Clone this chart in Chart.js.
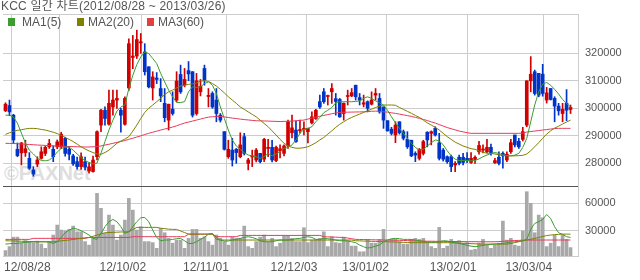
<!DOCTYPE html>
<html lang="ko">
<head>
<meta charset="UTF-8" />
<title>KCC 일간 차트</title>
<style>
  body { margin: 0; background: #fff; }
  .wrap { position: relative; width: 640px; height: 280px; overflow: hidden; font-family: "Liberation Sans", "Noto Sans CJK KR", sans-serif; color: #555; }
  .wrap canvas { position: absolute; left: 0; top: 0; }
  .title { position: absolute; left: 1px; top: 0; font-size: 12px; line-height: 12px; letter-spacing: 0.2px; white-space: nowrap; }
  .leg { position: absolute; top: 16px; font-size: 12px; line-height: 12px; white-space: nowrap; }
  .sq { position: absolute; top: 18px; width: 7px; height: 8px; }
  .mark { position: absolute; left: 4px; top: 162px; font: bold 20px "Liberation Sans", sans-serif; color: #dedede; white-space: nowrap; }
</style>
</head>
<body>
<div class="wrap">
  <div class="mark">©PAXNet</div>
  <canvas id="chart" width="640" height="280"></canvas>
  <div class="title">KCC 일간 차트(2012/08/28 ~ 2013/03/26)</div>
  <div class="sq" style="left:8px;background:#3c9c30"></div><div class="leg" style="left:22px">MA1(5)</div>
  <div class="sq" style="left:77px;background:#808000"></div><div class="leg" style="left:88px">MA2(20)</div>
  <div class="sq" style="left:147px;background:#e04040"></div><div class="leg" style="left:158px">MA3(60)</div>
</div>
<script src="https://cdn.jsdelivr.net/npm/chart.js"></script>
<script>
// daily candles 2012/08/28 .. 2013/03/26
const opens = [299100,301000,297500,285100,283800,283900,281800,277600,279700,281800,
283600,286000,285100,286000,286000,289100,285100,282700,280600,278800,
280600,277200,277000,282400,293900,299300,294200,300500,303000,299300,
294200,307400,318500,319000,323800,320500,315100,307400,311000,307200,
301800,295700,299700,303000,312300,308500,313700,313300,298100,306000,
314500,304300,305400,303000,297500,291500,282400,284800,285100,282400,
289700,280000,282300,281200,283600,281500,285400,285800,281000,284500,
283600,286300,291100,292100,291900,292300,291500,294700,296300,302400,
306000,304300,306000,303500,303200,298100,304300,304500,308400,303900,
301500,302400,301500,304800,303600,300500,295500,292400,290300,295100,
291500,288700,288400,283600,281800,283600,291300,290900,292700,287400,
284800,282400,282400,279400,282200,282200,281800,280300,281400,284200,
284800,284200,285800,280200,282200,283600,281200,284200,290300,288000,
288700,293900,310000,313300,312700,312400,303000,307200,303600,300800,
298100,301800,299600];
const highs = [302000,303000,297800,287400,287600,288400,283900,278800,282400,286000,
286300,288700,286300,288500,291300,289500,286000,283300,282300,283800,
282300,280200,282600,291800,299600,300500,306600,306600,306600,300000,
304200,325300,326500,328400,327200,323500,315100,313300,313000,310800,
307200,301500,306000,313300,315700,314500,317000,313300,312700,310500,
315700,307200,306000,307200,298100,291500,288400,289100,285400,291100,
290900,281800,284800,285400,283600,289100,288700,288400,286300,286700,
286700,295700,297500,295400,295700,295100,292800,298700,299600,304800,
307200,304800,309000,305400,303600,302000,306600,307200,308400,305400,
304800,302700,306000,307200,305400,300500,295500,293100,295100,295100,
292100,291500,288400,284200,285400,288400,291500,291800,293300,290900,
285400,282700,283000,280600,283000,283600,283900,283900,282700,288000,
286700,288700,287000,281800,284200,284200,284200,288700,290300,289100,
293100,310000,318800,313900,312700,316000,307600,307200,304200,301800,
301800,306800,301200];
const lows = [298800,297300,287200,282400,279400,282500,277800,275300,278800,281500,
282800,285400,280600,285300,285300,282600,281200,279200,277900,277800,
277600,276400,276800,281200,291500,293900,293900,297500,300000,291300,
293900,306500,314400,318100,320000,312100,307400,303000,309000,302400,
295100,292100,297500,302400,305400,307800,310000,296800,297500,304500,
308400,300500,300000,295100,295000,284800,281800,279000,280000,282000,
283000,277600,278800,280500,280100,280600,282400,280500,280600,282000,
282700,285400,289200,287600,291000,290300,287400,294300,296000,300000,
301800,301200,301800,297500,296700,295700,301200,304200,303000,301200,
300500,298700,301200,303000,298200,292700,291700,290300,287500,290600,
288500,285400,282400,280600,281200,283000,286000,286700,289900,281200,
280800,280000,277000,277000,279400,279400,280200,280000,280000,283300,
283800,283800,283000,280000,279400,278200,280600,283600,286000,285400,
288100,293300,306000,304800,304200,304400,301900,303000,295100,297500,
295100,295500,298100];
const closes = [301500,298700,288500,282800,287400,285300,278200,276100,281200,284200,
285800,287200,282400,287800,290600,283600,283300,279800,278800,282400,
278600,278700,281200,291500,299300,296300,301800,303000,303600,297500,
303600,323500,319000,325000,324200,313300,307800,311400,310500,304500,
296600,301500,298100,309900,306000,310500,312500,297500,310000,308000,
310200,304700,300500,298100,295700,285100,285100,281200,283900,286700,
283600,281200,282700,284800,280600,288700,285800,281200,285800,285300,
286300,295100,292900,287900,292200,292700,292700,296900,299300,300500,
302400,304600,307200,302500,296900,301800,304600,305700,304200,303000,
302000,300000,303000,305400,298700,295700,291800,290900,293900,291100,
289100,286000,282700,283000,285100,287900,288500,291500,290300,281800,
281500,280600,278800,280000,280000,280300,281000,281800,282200,286500,
285200,285800,283900,281000,280000,282700,283300,287500,286700,286000,
291500,310000,312400,305400,304800,305400,305600,303200,300800,299100,
299600,299300,300300];
const ma5 = [297500,297500,296800,294600,291000,287400,284800,283400,281900,281000,
280900,281200,282300,284100,285400,285900,285900,284800,283400,282100,
281000,280300,279800,280100,283700,287900,292100,295700,299000,300500,
301200,307200,312000,315900,318700,320500,319900,318100,316300,312700,
309600,306600,304200,302100,302100,302400,306000,307800,307600,307800,
309000,309600,308400,305400,300500,296300,292100,288500,286300,285100,
283900,283000,282700,282400,281800,282400,283600,282700,283400,284200,
285500,285700,286700,288500,290900,292300,292700,293300,295100,296700,
298400,299300,300300,302000,302400,302400,302400,302400,302500,302700,
303600,304200,303600,302700,302000,301200,299300,296900,294700,292700,
290900,289100,287300,285800,284800,285100,286300,287500,288500,288200,
286700,284600,282700,281500,281000,281000,281000,280900,281000,281600,
282400,283000,283600,283900,283600,283000,282700,282700,283000,283600,
285800,289100,295100,301200,306000,308800,309400,308400,306900,305200,
303200,301800,300500];
const ma20 = [290500,291100,291600,292000,292200,292500,292700,292700,292600,292300,
292100,291700,291300,290800,290200,289400,288700,287900,287000,286000,
285200,284500,283900,283400,283300,283900,284800,286000,287300,288100,
288800,289700,291700,293900,296300,298500,300000,301200,302400,303600,
305000,306000,306600,307400,308100,308400,308700,308900,309200,309900,
310000,309800,309000,308100,306900,305600,304200,303000,301800,300500,
299600,298700,297800,296900,295700,294500,293300,291800,290300,288700,
287300,286300,285800,285500,285500,285700,286000,286700,287500,288500,
289400,290600,291800,293100,294200,295100,296000,296700,297300,297900,
298500,299100,299700,300300,300800,301200,301200,301200,301100,300300,
299600,298900,298200,297400,296700,295700,294700,293900,293100,292100,
290900,289700,288700,287700,287000,286300,285800,285300,285100,284500,
284000,283700,283600,283400,283100,282900,282800,282700,282700,282800,
282900,283400,284600,286000,287500,289100,290600,291800,292800,293500,
294300,295000,295700];
const ma60 = [287270,287230,287200,287120,287020,286940,286830,286760,286650,286580,
286510,286430,286360,286290,286220,286180,286110,286070,286000,285960,
285930,285930,286000,286110,286290,286650,286940,287270,287600,287920,
288280,288720,289120,289550,289990,290460,290900,291300,291690,292090,
292460,292820,293180,293650,294160,294630,294990,295360,295720,296080,
296450,296810,296920,296990,297060,296880,296660,296450,296260,296080,
295900,295760,295610,295470,295430,295390,295360,295280,295250,295180,
295250,295280,295360,295470,295610,295720,296080,296450,296810,297100,
297420,297710,298010,298260,298510,298550,298590,298620,298660,298690,
298730,298800,298910,298980,298880,298730,298620,298370,298150,297900,
297610,297350,297060,296700,296340,295970,295540,295070,294630,294090,
293540,293000,292570,292170,291730,291440,291150,290900,290900,290900,
290900,290900,290900,290900,290900,290900,290900,290900,290900,290900,
291000,291370,291550,291730,291910,292090,292270,292460,292640,292710,
292710,292710,292710];
const volumes = [8800,13100,23300,23300,16800,19600,18500,17400,19100,15800,
11200,18500,25600,36400,31000,30200,31700,35300,29100,29100,
18500,14700,22000,70700,54500,27400,47200,36400,20100,25600,
41800,65300,52600,31000,34600,18500,18500,17400,11200,32800,
28100,22000,16800,20100,20100,11200,22000,31700,31700,22000,
23800,18500,14700,25600,22000,18500,14700,23300,22000,22000,
35300,13100,11200,18500,23300,25600,18500,22000,13100,16800,
24500,24500,22000,18500,18500,33500,17400,20100,20900,22000,
29100,13100,23800,17400,16800,23300,19600,13600,13600,7500,
7500,20900,16800,16800,20900,31700,19600,20900,20900,18500,
15800,15800,20900,22000,20900,22000,17400,13100,11200,33900,
11200,13600,20900,18500,19600,16800,17400,9300,10100,16800,
20900,14700,11200,14700,16800,40700,20100,22000,14700,13600,
29900,72500,59900,28100,47200,44300,13100,16800,25600,13100,
25600,20900,12000];
const volMa5 = [15800,16200,16500,16500,17300,17600,18000,18300,18300,18300,
18300,18000,16500,18300,23000,28100,31000,32800,32100,30300,
28100,25600,22000,20900,27400,34600,40000,42500,40000,34600,
27400,29200,34600,40000,44300,44700,40000,31000,23000,19400,
20200,20200,20900,21600,22000,19400,16500,16500,18300,20900,
23000,26600,27400,23000,20200,19100,19100,20200,20900,22000,
23000,23800,23000,21600,19400,18300,18300,18300,19400,20200,
20200,20200,20900,21600,22000,23000,23800,23000,20900,20900,
22000,21600,20900,20200,19400,19400,19100,18300,17300,14700,
12900,11500,12200,13600,14700,18300,20200,21600,22000,21600,
20900,20900,20900,20200,19400,18700,18300,18000,18000,18300,
19400,19100,18000,17300,16500,15500,14400,13600,12900,13600,
14400,15100,15500,15800,16200,16500,17300,18000,18300,18700,
19400,20900,31700,38200,40000,42500,47900,43600,34600,28100,
26300,23800,23000];
const volMa20 = [19400,19300,19200,19000,18900,18800,18600,18500,18300,18300,
18300,18300,18300,18700,19300,19800,20200,20800,21400,22000,
22600,23000,24300,25500,26800,28100,28300,28500,28700,28900,
29000,29200,31500,33900,33900,33900,33900,33900,33900,33000,
32500,32000,31700,31700,30000,28300,26600,26600,26600,26600,
26600,26600,26600,20900,20200,20200,20200,20200,20200,20200,
20200,20200,20200,20200,20200,20200,20200,20200,20200,20200,
20200,20200,20200,20200,20200,20200,20200,20200,20200,20200,
20200,20200,20200,20200,20200,20200,20200,20200,19400,19300,
19100,19000,18800,18700,18500,18400,18300,18200,18000,17900,
17700,17500,17400,17300,17300,17300,17300,17300,17300,17300,
17300,17300,17300,17100,16900,16700,16500,16300,16100,15900,
15800,15800,15800,15800,15800,15800,15800,16500,17300,18300,
19400,20200,21000,22000,23000,24000,25000,25600,26000,26300,
26600,26600,26600];
const volMa60 = [20900,20900,20900,20900,20900,20900,20900,22000,22000,22000,
22000,22000,22000,22000,22000,22000,22000,22000,22000,22000,
22000,23000,23000,23000,23000,23000,23000,23000,23000,23000,
23000,23000,23800,23800,23800,23800,23800,23800,23800,23800,
23800,23800,23800,23800,23800,23800,26600,26600,26600,26600,
26600,26600,26600,23800,23800,23800,23800,23800,23800,25200,
25200,25200,25200,25200,25200,25200,25200,25200,25200,25200,
25200,25200,25200,25200,25200,25200,25200,25200,25200,25200,
23800,23600,23400,23300,23100,23000,22300,21600,20900,20800,
20700,20600,20500,20400,20300,20200,20200,20100,20000,19900,
19700,19600,19400,19300,19100,19000,18900,18900,18800,18800,
18700,18700,18600,18600,18500,18500,18400,18400,18400,18300,
18300,18300,18300,18300,18500,18800,19100,19400,19600,19800,
20000,20200,20200,20200,20200,20200,20200,20200,20200,20200,
20200,20200,20200];

// x axis: candle index of each label / month gridline
const labelIdx = [0, 4, 24, 45, 67, 85, 107, 126];
const labelText = ['12/08/28', '', '12/10/02', '12/11/01', '12/12/03', '13/01/02', '13/02/01', '13/03/04'];
const priceTicks = [280000, 290000, 300000, 310000, 320000];
const volTicks = [30000, 60000];

const PRICE_MIN = 271750, PRICE_MAX = 334290;
const VOL_MIN = 2900, VOL_MAX = 78700;
const UP = '#d00000', DOWN = '#0034c8';
const GREEN = '#3c9c30', OLIVE = '#808000', PINK = '#e63a5c';

const idx = closes.map((c, i) => i);
const candleColors = idx.map(i => closes[i] >= opens[i] ? UP : DOWN);
const pts = (arr) => arr.map((v, i) => ({ x: i, y: v }));

function line(arr, color, axis) {
  return {
    type: 'line', data: pts(arr), yAxisID: axis, borderColor: color, borderWidth: 1,
    pointRadius: 0, tension: 0, order: 0
  };
}

const tickFont = { family: 'Liberation Sans', size: 11 };

new Chart(document.getElementById('chart'), {
  data: {
    datasets: [
      line(ma5, GREEN, 'y'),
      line(ma20, OLIVE, 'y'),
      line(ma60, PINK, 'y'),
      {
        type: 'bar', data: idx.map(i => ({ x: i, y: [opens[i], closes[i]] })), yAxisID: 'y',
        backgroundColor: candleColors, barThickness: 3, minBarLength: 1, grouped: false, order: 1
      },
      {
        type: 'bar', data: idx.map(i => ({ x: i, y: [lows[i], highs[i]] })), yAxisID: 'y',
        backgroundColor: candleColors, barThickness: 1, minBarLength: 1, grouped: false, order: 2
      },
      line(volMa5, GREEN, 'yv'),
      line(volMa20, OLIVE, 'yv'),
      line(volMa60, PINK, 'yv'),
      {
        type: 'bar', data: pts(volumes), yAxisID: 'yv',
        backgroundColor: '#a8a8a8', barThickness: 3, grouped: false, order: 3
      }
    ]
  },
  options: {
    responsive: false,
    animation: false,
    devicePixelRatio: 1,
    layout: { padding: { top: 14, left: 0, right: 0, bottom: 0 } },
    plugins: { legend: { display: false }, tooltip: { enabled: false } },
    scales: {
      x: {
        type: 'linear', min: -0.625, max: 143.875, offset: false,
        afterBuildTicks: s => { s.ticks = labelIdx.map(i => ({ value: i - 0.375 })); },
        afterFit: s => { s.height = 24; },
        ticks: {
          autoSkip: false, maxRotation: 0, align: 'start', padding: 4,
          color: '#555', font: { family: 'Liberation Sans', size: 12 },
          callback: (v, i) => labelText[i]
        },
        grid: { color: c => (c.index === 0 ? 'rgba(0,0,0,0)' : '#cccccc'), drawTicks: false },
        border: { display: true, color: '#cccccc' }
      },
      y: {
        type: 'linear', position: 'right', stack: 'panel', stackWeight: 172,
        min: PRICE_MIN, max: PRICE_MAX,
        afterBuildTicks: s => { s.ticks = [PRICE_MIN, ...priceTicks, PRICE_MAX].map(v => ({ value: v })); },
        afterFit: s => { s.width = 62; },
        ticks: { autoSkip: false, color: '#555', font: tickFont, padding: 7, callback: v => (priceTicks.includes(v) ? String(v) : '') },
        grid: { color: c => (c.tick && c.tick.value === PRICE_MIN ? '#555555' : '#cccccc'), drawTicks: false },
        border: { display: true, color: '#cccccc' }
      },
      yv: {
        type: 'linear', position: 'right', stack: 'panel', stackWeight: 70,
        min: VOL_MIN, max: VOL_MAX,
        afterBuildTicks: s => { s.ticks = volTicks.map(v => ({ value: v })); },
        afterFit: s => { s.width = 62; },
        ticks: { autoSkip: false, color: '#555', font: tickFont, padding: 7, callback: v => String(v) },
        grid: { color: '#cccccc', drawTicks: false },
        border: { display: true, color: '#cccccc' }
      }
    }
  }
});
</script>
</body>
</html>
